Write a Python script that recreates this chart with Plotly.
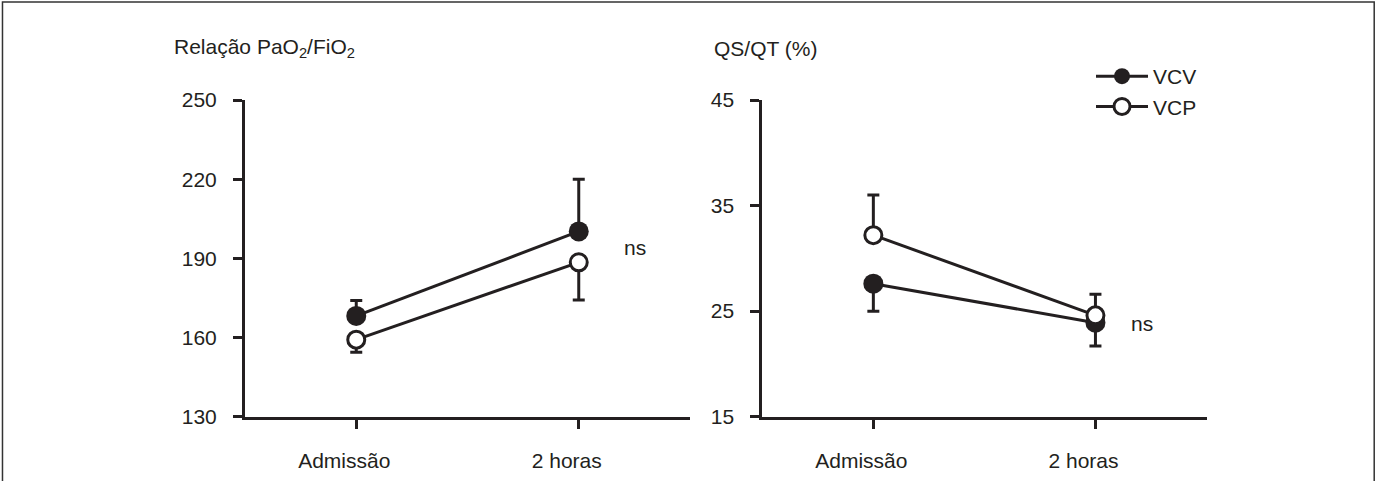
import plotly.graph_objects as go

# ---- data ----
categories = ["Admissão", "2 horas"]

pf_vcv = [168.2, 200.2]
pf_vcv_err_up = [5.8, 19.8]
pf_vcp = [159.2, 188.5]
pf_vcp_err_down = [4.8, 14.3]

qs_vcv = [27.6, 23.9]
qs_vcv_err_down = [2.6, 2.2]
qs_vcp = [32.2, 24.6]
qs_vcp_err_up = [3.8, 2.0]

pf_ticks = [130, 160, 190, 220, 250]
qs_ticks = [15, 25, 35, 45]

series_names = ["VCV", "VCP"]

# ---- style ----
INK = "#231f20"
FONT = "Liberation Sans, Arial, sans-serif"
W, H = 1380, 481

def px_x(v):
    return v / W

def px_y(v):
    return 1 - v / H

zeros = [0, 0]

fig = go.Figure()

def add_pair(xa, ya, vcv, vcv_up, vcv_dn, vcp, vcp_up, vcp_dn, show):
    fig.add_trace(go.Scatter(
        x=categories, y=vcv, name=series_names[0], mode="lines+markers",
        xaxis=xa, yaxis=ya, showlegend=show,
        line=dict(color=INK, width=3),
        marker=dict(symbol="circle", size=20, color=INK, line=dict(width=0)),
        error_y=dict(type="data", symmetric=False, array=vcv_up, arrayminus=vcv_dn,
                     color=INK, thickness=3, width=6),
    ))
    fig.add_trace(go.Scatter(
        x=categories, y=vcp, name=series_names[1], mode="lines+markers",
        xaxis=xa, yaxis=ya, showlegend=show,
        line=dict(color=INK, width=3),
        marker=dict(symbol="circle", size=17, color="white", line=dict(width=3, color=INK)),
        error_y=dict(type="data", symmetric=False, array=vcp_up, arrayminus=vcp_dn,
                     color=INK, thickness=3, width=6),
    ))

add_pair("x", "y", pf_vcv, pf_vcv_err_up, zeros, pf_vcp, zeros, pf_vcp_err_down, True)
add_pair("x2", "y2", qs_vcv, zeros, qs_vcv_err_down, qs_vcp, qs_vcp_err_up, zeros, False)

ydom = [px_y(416.7), px_y(100)]

axis_common = dict(
    showline=True, linewidth=3, linecolor=INK, showgrid=False, zeroline=False,
    ticks="outside", ticklen=9, tickwidth=3, tickcolor=INK, automargin=False,
    tickfont=dict(family=FONT, size=21, color=INK),
)

fig.update_layout(
    template="none",
    width=W, height=H,
    margin=dict(l=0, r=0, t=0, b=0, pad=0, autoexpand=False),
    paper_bgcolor="white", plot_bgcolor="white",
    font=dict(family=FONT, size=21, color=INK),
    hovermode=False,
    xaxis=dict(domain=[px_x(245), px_x(690)], range=[-0.5, 1.5], type="category",
               ticklabelstandoff=14, ticklabelshift=-12, anchor="y", **axis_common),
    yaxis=dict(domain=ydom, range=[130, 250], tickvals=pf_ticks,
               ticklabelstandoff=12, anchor="x", **axis_common),
    xaxis2=dict(domain=[px_x(762.3), px_x(1206.5)], range=[-0.5, 1.5], type="category",
                ticklabelstandoff=14, ticklabelshift=-12, anchor="y2", **axis_common),
    yaxis2=dict(domain=ydom, range=[15, 45], tickvals=qs_ticks,
                ticklabelstandoff=12, anchor="x2", **axis_common),
    legend=dict(x=px_x(1091), y=px_y(56), xanchor="left", yanchor="top",
                font=dict(family=FONT, size=21, color=INK),
                bgcolor="rgba(0,0,0,0)", borderwidth=0, tracegroupgap=0,
                itemwidth=52),
    showlegend=True,
)

annotations = [
    dict(text="Relação PaO<sub>2</sub>/FiO<sub>2</sub>", x=px_x(172), y=px_y(48),
         xanchor="left", yanchor="middle"),
    dict(text="QS/QT (%)", x=px_x(712), y=px_y(48), xanchor="left", yanchor="middle"),
    dict(text="ns", x=px_x(622), y=px_y(247.5), xanchor="left", yanchor="middle"),
    dict(text="ns", x=px_x(1129), y=px_y(323), xanchor="left", yanchor="middle"),
]
for a in annotations:
    fig.add_annotation(xref="paper", yref="paper", showarrow=False,
                       font=dict(family=FONT, size=21, color=INK), **a)

# outer frame (open at the bottom)
fig.add_shape(type="path", xref="paper", yref="paper",
              path="M 0.0018,0 L 0.0018,0.9958 L 0.9958,0.9958 L 0.9958,0",
              line=dict(color="#333333", width=1.5))

fig.write_html("out.html")
